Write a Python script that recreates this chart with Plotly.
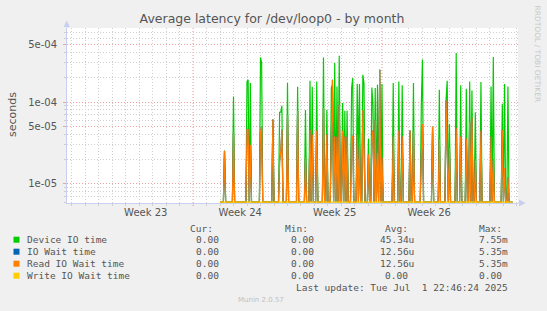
import numpy as np
import pandas as pd
import plotly.graph_objects as go

# ---------------- data ----------------
week_starts = ["2025-06-02", "2025-06-09", "2025-06-16", "2025-06-23", "2025-06-30"]
week_labels = ["Week 23", "Week 24", "Week 25", "Week 26"]
x_start = "2025-05-30 15:54"
x_end = "2025-07-03 01:54"
data_start = "2025-06-11 00:00"
data_end = "2025-07-02 16:00"

spike_times = [
    "2025-06-11 08:00", "2025-06-12 00:00", "2025-06-13 00:00", "2025-06-13 02:00", "2025-06-13 06:00",
    "2025-06-14 00:00", "2025-06-14 02:00", "2025-06-14 22:00", "2025-06-15 10:00", "2025-06-15 12:00",
    "2025-06-15 14:00", "2025-06-16 00:00", "2025-06-16 18:00", "2025-06-17 08:00", "2025-06-17 16:00",
    "2025-06-17 20:00", "2025-06-18 04:00", "2025-06-18 16:00", "2025-06-18 22:00", "2025-06-19 06:00",
    "2025-06-19 08:00", "2025-06-19 12:00", "2025-06-19 16:00", "2025-06-19 20:00", "2025-06-20 02:00",
    "2025-06-20 06:00", "2025-06-20 10:00", "2025-06-20 18:00", "2025-06-20 20:00", "2025-06-21 04:00",
    "2025-06-21 06:00", "2025-06-21 08:00", "2025-06-21 14:00", "2025-06-21 16:00", "2025-06-22 00:00",
    "2025-06-22 06:00", "2025-06-22 08:00", "2025-06-22 12:00", "2025-06-22 16:00", "2025-06-22 20:00",
    "2025-06-23 00:00", "2025-06-23 20:00", "2025-06-24 06:00", "2025-06-24 12:00", "2025-06-25 02:00",
    "2025-06-25 08:00", "2025-06-25 22:00", "2025-06-26 00:00", "2025-06-26 18:00", "2025-06-27 06:00",
    "2025-06-27 18:00", "2025-06-27 20:00", "2025-06-28 00:00", "2025-06-28 12:00", "2025-06-28 20:00",
    "2025-06-29 06:00", "2025-06-29 12:00", "2025-06-29 16:00", "2025-06-29 22:00", "2025-06-30 08:00",
    "2025-07-01 02:00", "2025-07-01 06:00", "2025-07-01 22:00", "2025-07-02 02:00", "2025-07-02 08:00",
]
device_io = [
    2.55e-5, 1.17e-4, 1.78e-4, 1.87e-4, 1.70e-4,
    3.50e-4, 3.00e-4, 6.1e-5, 7.5e-5, 7.5e-5,
    9.0e-5, 1.70e-4, 1.54e-4, 8.0e-5, 1.82e-4,
    1.54e-4, 1.78e-4, 3.50e-4, 8.0e-5, 1.50e-4,
    1.60e-4, 3.00e-4, 1.55e-4, 3.67e-4, 9.7e-5,
    7.8e-5, 7.8e-5, 1.48e-4, 1.96e-4, 1.66e-4,
    2.0e-5, 1.66e-4, 2.15e-4, 1.70e-4, 3.6e-5,
    1.50e-4, 9.3e-5, 1.48e-4, 1.62e-4, 2.48e-4,
    1.66e-4, 1.70e-4, 1.78e-4, 1.60e-4, 4.5e-5,
    1.70e-4, 9.3e-5, 3.30e-4, 5.0e-5, 1.41e-4,
    1.07e-4, 1.82e-4, 5.4e-5, 3.96e-4, 1.60e-4,
    1.45e-4, 1.78e-4, 1.38e-4, 7.5e-5, 1.75e-4,
    1.55e-4, 3.55e-4, 9.5e-5, 1.66e-4, 1.55e-4,
]
read_io = [
    2.55e-5, 4.3e-5, 4.7e-5, 4.6e-5, 3.0e-5,
    4.4e-5, 5.0e-5, 6.1e-5, 1.9e-5, 2.5e-5,
    4.6e-5, 7.0e-5, 7.8e-5, 2.1e-5, 4.6e-5,
    4.0e-5, 4.5e-5, 8.5e-5, 4.0e-5, 3.8e-5,
    1.87e-4, 3.8e-5, 3.8e-5, 9.3e-5, 4.5e-5,
    3.8e-5, 3.8e-5, 3.8e-5, 3.8e-5, 4.0e-5,
    0.0, 3.0e-5, 8.0e-5, 3.0e-5, 2.3e-5,
    3.8e-5, 4.5e-5, 6.0e-5, 2.4e-5, 2.48e-4,
    2.1e-5, 3.8e-5, 4.5e-5, 3.8e-5, 4.5e-5,
    4.4e-5, 2.3e-5, 5.4e-5, 5.0e-5, 3.6e-5,
    1.04e-4, 3.0e-5, 2.75e-5, 4.8e-5, 3.8e-5,
    3.6e-5, 5.8e-5, 6.4e-5, 2.0e-5, 4.5e-5,
    3.8e-5, 2.0e-5, 4.6e-5, 1.57e-5, 1.2e-5,
]

series_names = ["Device IO time", "IO Wait time", "Read IO Wait time", "Write IO Wait time"]
series_colors = ["#00CC00", "#0066B3", "#FF8000", "#FFCC00"]
cur_vals = ["0.00", "0.00", "0.00", "0.00"]
min_vals = ["0.00", "0.00", "0.00", "0.00"]
avg_vals = ["45.34u", "12.56u", "12.56u", "0.00"]
max_vals = ["7.55m", "5.35m", "5.35m", "0.00"]
last_update = "Last update: Tue Jul  1 22:46:24 2025"

y_ticks = [1e-5, 5e-5, 1e-4, 5e-4]
y_ticktext = ["1e-05", "5e-05", "1e-04", "5e-04"]

# ---------------- geometry ----------------
W, H = 547, 311
L, R, T, B = 67, 518, 28, 203
YLOG = [-5.232, -3.097]
FLOOR = 10 ** -5.222  # rrdtool clamps zero values to the bottom edge on log scale


def px2x(x):
    return (x - L) / (R - L)


def px2y(y):
    return (B - y) / (B - T)


grid = pd.date_range(data_start, data_end, freq="2h")
dev = pd.Series(0.0, index=grid)
rd = pd.Series(0.0, index=grid)
dev.loc[pd.to_datetime(spike_times)] = device_io
rd.loc[pd.to_datetime(spike_times)] = read_io
wr = pd.Series(0.0, index=grid)


def clamp(s):
    v = s.values.astype(float)
    return np.where(v > FLOOR, v, FLOOR)


fig = go.Figure()
for name, s, col in [(series_names[0], dev, series_colors[0]),
                     (series_names[1], rd, series_colors[1]),
                     (series_names[2], rd, series_colors[2]),
                     (series_names[3], wr, series_colors[3])]:
    fig.add_trace(go.Scatter(x=s.index, y=clamp(s), mode="lines", name=name,
                             line=dict(color=col, width=1.2), hoverinfo="skip"))

mid_weeks = [pd.Timestamp(w) + pd.Timedelta(hours=84) for w in week_starts[:-1]]

minor_y = [k * 10.0 ** e for e in (-6, -5, -4, -3) for k in (2, 3, 4, 6, 7, 8, 9)
           if YLOG[0] <= np.log10(k * 10.0 ** e) <= YLOG[1]]

GRID = "#CFCFCF"
MGRID = "#F0A0A0"
AXIS = "#C8CFF0"
TXT = "#555555"

fig.update_layout(
    width=W, height=H,
    margin=dict(l=L, r=W - R, t=T, b=H - B, pad=0, autoexpand=False),
    paper_bgcolor="#F0F0F0", plot_bgcolor="#FFFFFF",
    showlegend=False,
    font=dict(family="DejaVu Sans", size=10, color=TXT),
    title=dict(text="Average latency for /dev/loop0 - by month", x=272 / W, xanchor="center",
               y=1 - 19 / H, yanchor="middle", yref="container",
               font=dict(family="DejaVu Sans", size=12.5, color=TXT)),
    xaxis=dict(type="date", range=[x_start, x_end], tickmode="array", tickvals=mid_weeks,
               ticktext=week_labels, showgrid=False, ticks="", zeroline=False,
               showline=True, linecolor=AXIS, automargin=False, fixedrange=True,
               tickfont=dict(size=10, color=TXT),
               minor=dict(dtick=86400000, tick0=week_starts[0], showgrid=True, gridcolor=GRID,
                          griddash="1px,2px", gridwidth=1, ticks="outside", ticklen=2,
                          tickcolor=GRID)),
    yaxis=dict(type="log", range=YLOG, tickmode="array", tickvals=y_ticks, ticktext=y_ticktext,
               showgrid=True, gridcolor=MGRID, griddash="1px,2px", gridwidth=1,
               ticks="outside", ticklen=3, tickcolor=MGRID, zeroline=False,
               showline=True, linecolor=AXIS, automargin=False, fixedrange=True,
               ticklabelstandoff=4, tickfont=dict(size=10, color=TXT),
               minor=dict(tickmode="array", tickvals=minor_y, showgrid=True, gridcolor=GRID,
                          griddash="1px,2px", gridwidth=1, ticks="outside", ticklen=2,
                          tickcolor=GRID)),
)

shapes = []
for w in week_starts:
    shapes.append(dict(type="line", xref="x", yref="paper", x0=w, x1=w, y0=px2y(206), y1=1,
                       line=dict(color=MGRID, width=1, dash="1px,2px"), layer="below"))
# axis arrows
shapes.append(dict(type="path", xref="paper", yref="paper",
                   path=f"M {px2x(63.5)} {px2y(27)} L {px2x(70)} {px2y(27)} L {px2x(66.7)} {px2y(20.5)} Z",
                   fillcolor=AXIS, line=dict(width=0)))
shapes.append(dict(type="line", xref="paper", yref="paper", x0=0, x1=0, y0=1, y1=px2y(24),
                   line=dict(color=AXIS, width=1)))
shapes.append(dict(type="path", xref="paper", yref="paper",
                   path=f"M {px2x(519)} {px2y(199.5)} L {px2x(519)} {px2y(206.5)} L {px2x(525.5)} {px2y(203)} Z",
                   fillcolor=AXIS, line=dict(width=0)))
shapes.append(dict(type="line", xref="paper", yref="paper", x0=1, x1=px2x(521), y0=0, y1=0,
                   line=dict(color=AXIS, width=1)))

ann = []
ann.append(dict(text="seconds", textangle=-90, x=px2x(12), y=px2y(115), xref="paper", yref="paper",
                showarrow=False, xanchor="center", yanchor="middle",
                font=dict(family="DejaVu Sans", size=11, color=TXT)))
ann.append(dict(text="RRDTOOL / TOBI OETIKER", textangle=90, x=px2x(537), y=px2y(53.5), xref="paper",
                yref="paper", showarrow=False, xanchor="center", yanchor="middle",
                font=dict(family="DejaVu Sans", size=7.5, color="#C8C8C8")))

MONO = dict(family="DejaVu Sans Mono", size=9.5, color=TXT)
CW = 5.73
header_y = 228.3
row_y = [239.7, 251.7, 263.7, 275.7]
col_right = [221, 316, 416, 509.5]
for label, xr in zip(["Cur:", "Min:", "Avg:", "Max:"], col_right):
    ann.append(dict(text=label, x=px2x(xr - CW), y=px2y(header_y), xref="paper", yref="paper",
                    showarrow=False, xanchor="right", yanchor="middle", font=MONO))
for i, name in enumerate(series_names):
    yy = row_y[i]
    shapes.append(dict(type="rect", xref="paper", yref="paper", x0=px2x(13.5), x1=px2x(19.5),
                       y0=px2y(yy + 3), y1=px2y(yy - 3), fillcolor=series_colors[i],
                       line=dict(width=0)))
    ann.append(dict(text=name, x=px2x(25), y=px2y(yy), xref="paper", yref="paper",
                    showarrow=False, xanchor="left", yanchor="middle", font=MONO))
    for j, vals in enumerate([cur_vals, min_vals, avg_vals, max_vals]):
        v = vals[i]
        xr = col_right[j]
        if j >= 2 and not v[-1].isalpha():
            xr -= CW
        ann.append(dict(text=v, x=px2x(xr), y=px2y(yy), xref="paper", yref="paper",
                        showarrow=False, xanchor="right", yanchor="middle", font=MONO))
ann.append(dict(text=last_update.replace(" ", "\u00a0"), x=px2x(509.5), y=px2y(287.7), xref="paper",
                yref="paper", showarrow=False, xanchor="right", yanchor="middle", font=MONO))
ann.append(dict(text="Munin 2.0.57", x=px2x(260.7), y=px2y(300.3), xref="paper", yref="paper",
                showarrow=False, xanchor="center", yanchor="middle",
                font=dict(family="DejaVu Sans", size=7, color="#C0C0C0")))

fig.update_layout(shapes=shapes, annotations=ann)
fig.write_html("out.html")
